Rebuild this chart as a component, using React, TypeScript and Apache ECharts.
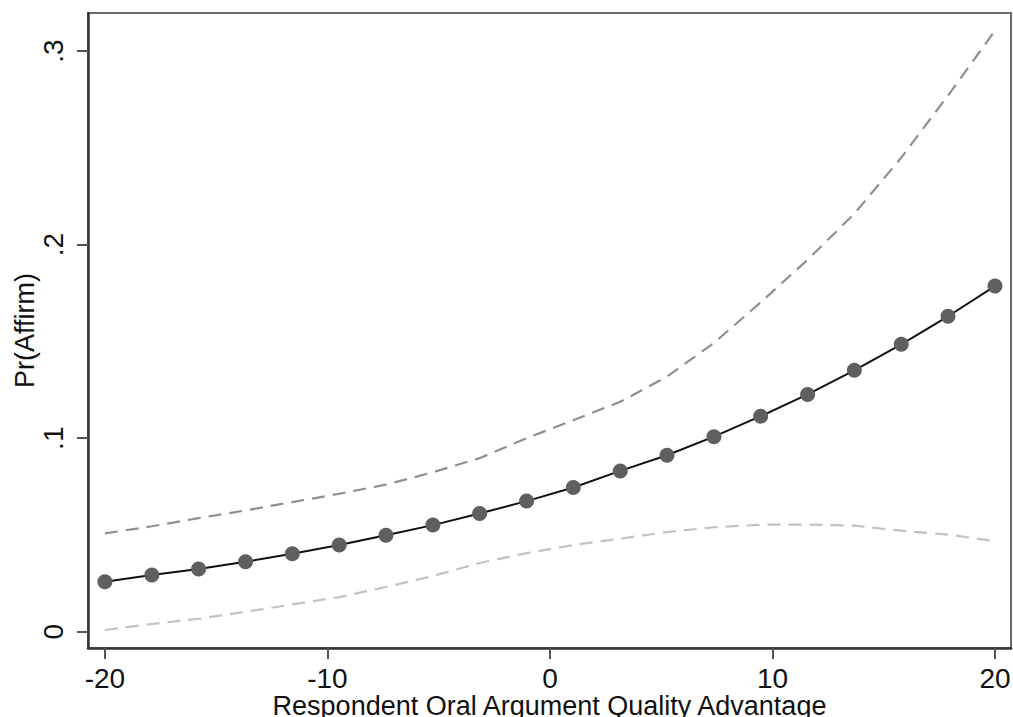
import React, { useEffect, useRef } from "react";
import * as echarts from "echarts";

const xValues = [-20, -17.89, -15.79, -13.68, -11.58, -9.47, -7.37, -5.26, -3.16, -1.05, 1.05, 3.16, 5.26, 7.37, 9.47, 11.58, 13.68, 15.79, 17.89, 20];
const prAffirm = [0.0258, 0.0293, 0.0324, 0.0362, 0.0403, 0.0448, 0.0499, 0.0551, 0.0611, 0.0675, 0.0745, 0.0831, 0.0912, 0.1008, 0.1114, 0.1226, 0.1351, 0.1485, 0.163, 0.1786];
const upperCI = [0.0508, 0.0545, 0.0587, 0.0627, 0.067, 0.0713, 0.076, 0.0824, 0.0897, 0.1, 0.1093, 0.1188, 0.1318, 0.1492, 0.1702, 0.1922, 0.216, 0.245, 0.2771, 0.3106];
const lowerCI = [0.0009, 0.004, 0.0067, 0.0103, 0.0141, 0.0179, 0.0231, 0.0288, 0.0355, 0.0406, 0.0448, 0.0481, 0.0515, 0.054, 0.0553, 0.0554, 0.0548, 0.0522, 0.0502, 0.0468];
const xTicks = [-20, -10, 0, 10, 20];
const yTicks = [0, 0.1, 0.2, 0.3];

const xTitle = "Respondent Oral Argument Quality Advantage";
const yTitle = "Pr(Affirm)";

const FONT = "'Liberation Sans', Arial, sans-serif";

export default function App() {
  const ref = useRef<HTMLDivElement>(null);
  useEffect(() => {
    if (!ref.current) return;
    const chart = echarts.init(ref.current, undefined, { renderer: "svg" });
    const pair = (ys: number[]) => xValues.map((x, i) => [x, ys[i]]);
    chart.setOption({
      animation: false,
      backgroundColor: "#ffffff",
      grid: {
        left: 88,
        top: 13,
        right: 2,
        bottom: 69,
        containLabel: false,
        outerBoundsMode: "none",
        show: true,
        borderColor: "#6a6a6a",
        borderWidth: 2,
      },
      xAxis: {
        type: "value",
        min: -20.76,
        max: 20.72,
        name: xTitle,
        nameLocation: "middle",
        nameGap: 44,
        nameMoveOverlap: false,
        nameTextStyle: { fontSize: 27, color: "#111", fontFamily: FONT },
        axisLine: { show: true, onZero: false, lineStyle: { color: "#333", width: 2.5 } },
        axisTick: { show: true, length: 11, customValues: xTicks, lineStyle: { color: "#555", width: 2 } },
        axisLabel: {
          customValues: xTicks,
          fontSize: 28,
          color: "#111",
          fontFamily: FONT,
          margin: 16,
          formatter: (v: number) => String(v),
        },
        splitLine: { show: false },
      },
      yAxis: {
        type: "value",
        min: -0.0084,
        max: 0.3197,
        name: yTitle,
        nameLocation: "middle",
        nameRotate: 90,
        nameGap: 50,
        nameMoveOverlap: false,
        nameTextStyle: { fontSize: 27, color: "#111", fontFamily: FONT },
        axisLine: { show: true, onZero: false, lineStyle: { color: "#333", width: 2.5 } },
        axisTick: { show: true, length: 11, customValues: yTicks, lineStyle: { color: "#555", width: 2 } },
        axisLabel: {
          customValues: yTicks,
          rotate: 90,
          fontSize: 28,
          color: "#111",
          fontFamily: FONT,
          margin: 21,
          formatter: (v: number) => (Math.abs(v) < 1e-9 ? "0" : "." + Math.round(v * 10)),
        },
        splitLine: { show: false },
      },
      series: [
        {
          name: "upper",
          type: "line",
          data: pair(upperCI),
          symbol: "none",
          lineStyle: { color: "#8f8f8f", width: 2.2, type: [13, 8] },
          z: 2,
        },
        {
          name: "lower",
          type: "line",
          data: pair(lowerCI),
          symbol: "none",
          lineStyle: { color: "#c2c2c2", width: 2.2, type: [13, 8] },
          z: 2,
        },
        {
          name: "Pr(Affirm)",
          type: "line",
          data: pair(prAffirm),
          symbol: "circle",
          symbolSize: 15,
          itemStyle: { color: "#5f5f5f", borderWidth: 0 },
          lineStyle: { color: "#111", width: 2 },
          z: 3,
        },
      ],
    });
    return () => chart.dispose();
  }, []);
  return <div ref={ref} style={{ width: 1013, height: 717, position: "absolute", left: 0, top: 0 }} />;
}
